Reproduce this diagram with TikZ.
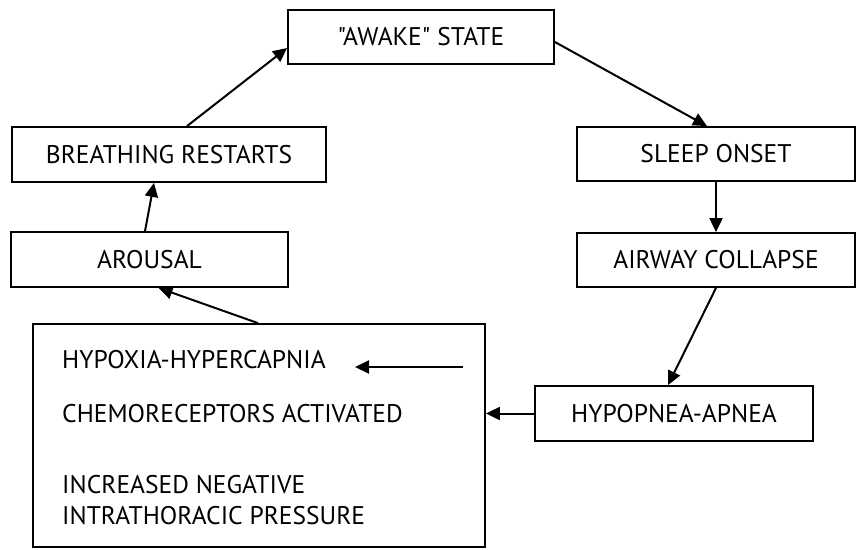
\documentclass[tikz,border=0pt]{standalone}
\usepackage{fontspec}
% family without the TeX quote mapping, so " stays a straight quote
\newfontfamily\labelfont{PT Sans}
\usetikzlibrary{arrows.meta,calc}
\begin{document}
\begin{tikzpicture}[x=1pt,y=-1pt,
  every node/.style={font=\labelfont\fontsize{25.5}{30}\selectfont},
  stagebox/.style={draw=black,line width=1.8pt,inner sep=0pt,align=center},
  flow/.style={line width=2pt,-{Triangle[length=14pt,width=13pt]}},
  boxtext/.style={anchor=base west,inner sep=0pt}]
  \useasboundingbox (0,0) rectangle (858,549);
  % cycle stages
  \node[stagebox,minimum width=266pt,minimum height=54pt] (aw) at (421,37) {"AWAKE" STATE};
  \node[stagebox,minimum width=314pt,minimum height=55pt] (br) at (169,154.5) {BREATHING RESTARTS};
  \node[stagebox,minimum width=277pt,minimum height=55pt] (ar) at (149.5,259.5) {AROUSAL};
  \node[stagebox,minimum width=278pt,minimum height=54pt] (so) at (716,154) {SLEEP ONSET};
  \node[stagebox,minimum width=278pt,minimum height=54pt] (ac) at (716,260) {AIRWAY COLLAPSE};
  \node[stagebox,minimum width=278pt,minimum height=55pt] (hp) at (674,413.5) {HYPOPNEA-APNEA};
  % large box with the chemical response
  \node[stagebox,minimum width=452pt,minimum height=223pt] (big) at (259,435.5) {};
  \node[boxtext] (hyp) at (62,368) {HYPOXIA-HYPERCAPNIA};
  \node[boxtext] (chem) at (62,422) {CHEMORECEPTORS ACTIVATED};
  \node[boxtext] (inc) at (62,493) {INCREASED NEGATIVE};
  \node[boxtext] (intra) at (62,524) {INTRATHORACIC PRESSURE};
  \coordinate (inA) at (463,367);
  \coordinate (inB) at (355,367);
  % connectors
  \draw[flow] ($(br.north)+(18,0)$) -- ($(aw.west)+(0,11)$);
  \draw[flow] ($(aw.east)+(0,5)$) -- ($(so.north)+(-9,0)$);
  \draw[flow] (so.south) -- (ac.north);
  \draw[flow] (ac.south) -- ($(hp.north)+(-6,0)$);
  \draw[flow] (hp.west) -- (hp.west -| big.east);
  \draw[flow] (inA) -- (inB);
  \draw[flow] ($(big.north)+(-1,0)$) -- ($(ar.south)+(9,0)$);
  \draw[flow] ($(ar.north)+(-4.5,0)$) -- ($(br.south)+(-15,0)$);
\end{tikzpicture}
\end{document}
